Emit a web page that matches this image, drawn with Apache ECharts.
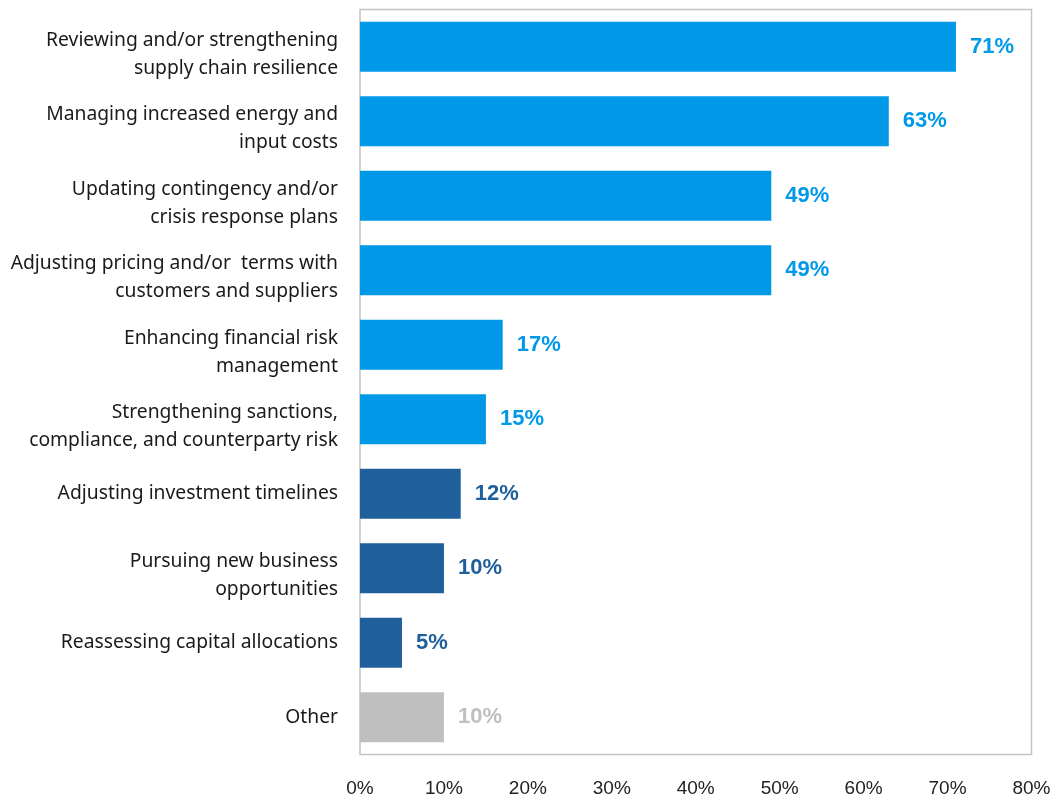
<!DOCTYPE html>
<html>
<head>
<meta charset="utf-8">
<script src="https://cdn.jsdelivr.net/npm/echarts@6/dist/echarts.min.js"></script>
<style>
  html, body { margin: 0; padding: 0; background: #fff; }
  #chart { width: 1057px; height: 794px; }
</style>
</head>
<body>
<div id="chart"></div>
<script>
// Survey responses: actions taken, share of respondents (%)
const categories = [
  'Reviewing and/or strengthening\nsupply chain resilience',
  'Managing increased energy and\ninput costs',
  'Updating contingency and/or\ncrisis response plans',
  'Adjusting pricing and/or  terms with\ncustomers and suppliers',
  'Enhancing financial risk\nmanagement',
  'Strengthening sanctions,\ncompliance, and counterparty risk',
  'Adjusting investment timelines',
  'Pursuing new business\nopportunities',
  'Reassessing capital allocations',
  'Other'
];
const values = [71, 63, 49, 49, 17, 15, 12, 10, 5, 10];
// Group of each action: 0 = operational, 1 = investment, 2 = other
const groups = [0, 0, 0, 0, 0, 0, 1, 1, 1, 2];
const groupColors = ['#0099E8', '#1F5F9B', '#BFBFBF'];
const tickValues = [0, 10, 20, 30, 40, 50, 60, 70, 80];

const chart = echarts.init(document.getElementById('chart'), null, { renderer: 'canvas' });

const data = values.map((v, i) => ({
  value: v,
  itemStyle: { color: groupColors[groups[i]] },
  label: { color: groupColors[groups[i]] }
}));

// Two-line category labels sit a little lower than the bar centre:
// a short spacer line on top pushes the text block down.
function categoryLabel(text) {
  const lines = text.split('\n');
  const body = lines.map(l => '{t|' + l + '}').join('\n');
  return lines.length > 1 ? '{s| }\n' + body : body;
}

chart.setOption({
  animation: false,
  grid: {
    left: 360, right: 25.5, top: 9.5, bottom: 39.5,
    outerBoundsMode: 'none',
    show: true, borderColor: '#C4C4C4', borderWidth: 1.5, backgroundColor: 'transparent'
  },
  xAxis: {
    type: 'value',
    min: tickValues[0],
    max: tickValues[tickValues.length - 1],
    interval: 10,
    axisLine: { show: false },
    axisTick: { show: false },
    splitLine: { show: false },
    axisLabel: {
      formatter: '{value}%',
      margin: 25,
      fontFamily: '"Liberation Sans", Arial, sans-serif',
      fontSize: 19,
      color: '#222'
    }
  },
  yAxis: {
    type: 'category',
    data: categories,
    inverse: true,
    axisLine: { show: false },
    axisTick: { show: false },
    axisLabel: {
      margin: 22,
      align: 'right',
      formatter: categoryLabel,
      rich: {
        t: {
          fontFamily: '"Noto Sans", "Liberation Sans", sans-serif',
          fontSize: 19.3,
          lineHeight: 28,
          color: '#1a1a1a',
          align: 'right'
        },
        s: { fontSize: 4, lineHeight: 15, align: 'right' }
      }
    }
  },
  series: [{
    type: 'bar',
    data: data,
    barCategoryGap: '33%',
    label: {
      show: true,
      position: 'right',
      distance: 14,
      formatter: '{c}%',
      fontFamily: '"Liberation Sans", Arial, sans-serif',
      fontWeight: 'bold',
      fontSize: 22
    }
  }]
});
</script>
</body>
</html>
